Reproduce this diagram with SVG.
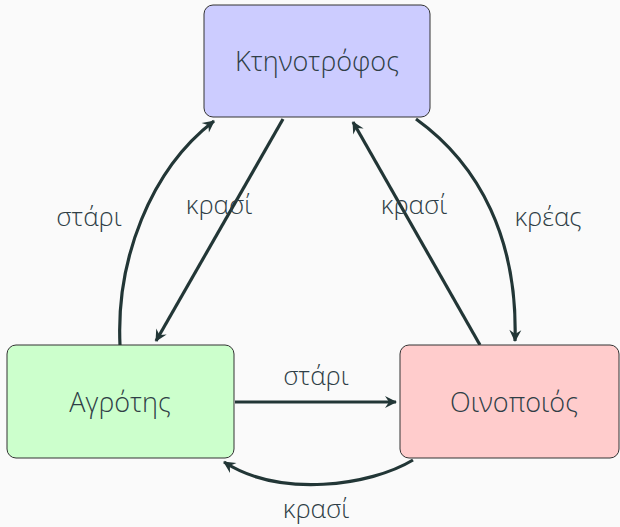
<svg xmlns="http://www.w3.org/2000/svg" width="620" height="527" viewBox="0 0 620 527">
<style>
.node rect{stroke:#333;stroke-width:1}
.node text{font-family:"Open Sans","Noto Sans",sans-serif;font-weight:300;font-size:27px;fill:#2f3e46;text-anchor:middle;dominant-baseline:central}
.lbl{font-family:"Open Sans","Noto Sans",sans-serif;font-weight:300;font-size:26px;fill:#2f3e46;text-anchor:middle;dominant-baseline:central}
.edge{fill:none;stroke:#223636;stroke-width:3.2;marker-end:url(#arr)}
</style>
<defs>
<marker id="arr" markerUnits="userSpaceOnUse" viewBox="-12 -7 14 14" refX="0" refY="0" markerWidth="14" markerHeight="14" orient="auto">
<path d="M1,0 L-11,-6 L-7,0 L-11,6 z" fill="#223636"/>
</marker>
</defs>
<rect width="620" height="527" fill="#fafafa"/>
<g id="connectors">
<path class="edge" d="M120,345 C116,260 150,170 214,121"/>
<path class="edge" d="M283,119 L156,341"/>
<path class="edge" d="M480,345 L353,122"/>
<path class="edge" d="M416,119 C480,165 518,240 515,341"/>
<path class="edge" d="M235,402 L396,402"/>
<path class="edge" d="M413,460 C370,486 280,498 224,462"/>
<text class="lbl" x="89" y="216">στάρι</text>
<text class="lbl" x="219" y="204">κρασί</text>
<text class="lbl" x="414" y="204">κρασί</text>
<text class="lbl" x="548" y="216">κρέας</text>
<text class="lbl" x="316" y="375">στάρι</text>
<text class="lbl" x="316" y="508">κρασί</text>
</g>
<g id="ktinotrofos" class="node">
<rect x="204" y="5" width="226" height="112" rx="9" fill="#ccccff"/>
<text x="317" y="60">Κτηνοτρόφος</text>
</g>
<g id="agrotis" class="node">
<rect x="7" y="345" width="227" height="113" rx="9" fill="#ccffcc"/>
<text x="120" y="401">Αγρότης</text>
</g>
<g id="oinopoios" class="node">
<rect x="400" y="345" width="219" height="113" rx="9" fill="#ffcccc"/>
<text x="514" y="401">Οινοποιός</text>
</g>
</svg>
